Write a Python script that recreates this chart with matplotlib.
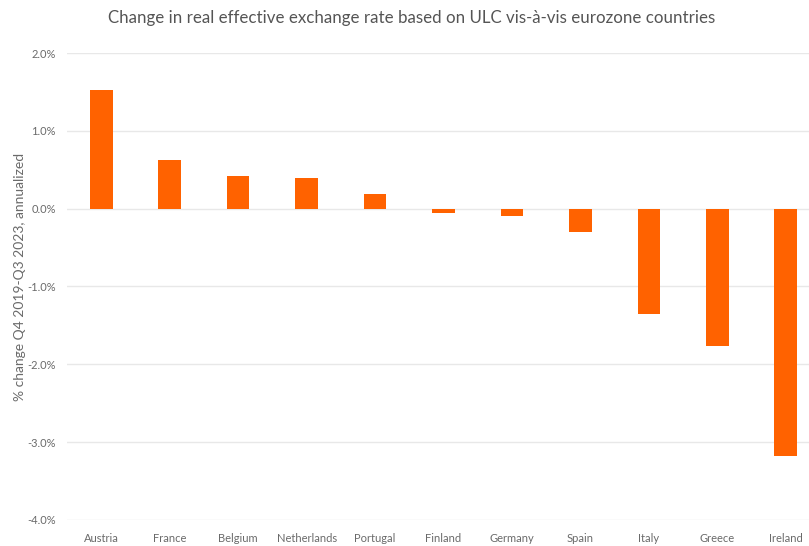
import matplotlib

matplotlib.use("Agg")
import matplotlib.pyplot as plt
from matplotlib.ticker import FuncFormatter

countries = ["Austria", "France", "Belgium", "Netherlands", "Portugal", "Finland",
             "Germany", "Spain", "Italy", "Greece", "Ireland"]
reer_change = [1.53, 0.63, 0.42, 0.40, 0.19, -0.06, -0.10, -0.30, -1.35, -1.76, -3.18]
y_ticks = [2.0, 1.0, 0.0, -1.0, -2.0, -3.0, -4.0]

ORANGE = "#FF6200"
GRID = "#e8e8e8"
TEXT = "#6a6a6a"

plt.rcParams["font.family"] = ["Lato", "DejaVu Sans"]

fig = plt.figure(figsize=(8.09, 5.46), dpi=100)
ax = fig.add_axes([67 / 809, 1 - 520 / 546, (809 - 67) / 809, (520 - 53) / 546])

x = list(range(len(countries)))
ax.bar(x, reer_change, width=0.33, color=ORANGE, zorder=2)

ax.set_ylim(-4.0, 2.0)
ax.set_xlim(-0.5, 10.34)
ax.set_yticks(y_ticks)
ax.yaxis.set_major_formatter(FuncFormatter(lambda v, _: f"{v:.1f}%"))
ax.set_xticks(x)
ax.set_xticklabels(countries)
ax.tick_params(axis="both", length=0, labelsize=8, colors=TEXT)
ax.tick_params(axis="x", pad=9)
ax.tick_params(axis="y", pad=8)
ax.grid(axis="y", color=GRID, linewidth=1.0, zorder=0)
for s in ax.spines.values():
    s.set_visible(False)

ax.set_ylabel("% change Q4 2019-Q3 2023, annualized", fontsize=10, color=TEXT)
ax.yaxis.set_label_coords(-41 / 742, 0.52)
fig.text(412 / 809, 1 - 18 / 546, "Change in real effective exchange rate based on ULC vis-à-vis eurozone countries",
         ha="center", va="center", fontsize=12.2, color="#555555")

fig.savefig("out.png", dpi=100)
